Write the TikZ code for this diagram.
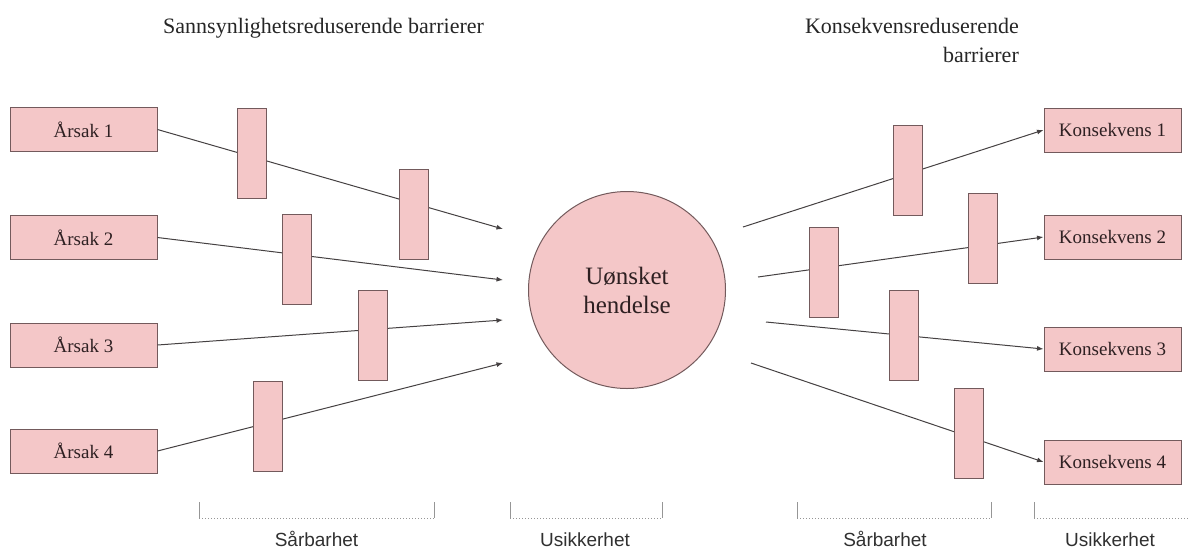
\documentclass[tikz,border=0pt]{standalone}
\usepackage{fontspec}
\setmainfont{Liberation Serif}
\newfontfamily\labelsans{Liberation Sans}
\usetikzlibrary{arrows.meta}

\definecolor{barfill}{HTML}{F4C7C8}
\definecolor{barline}{HTML}{735A5C}
\definecolor{wirecol}{HTML}{454142}
\definecolor{ink}{HTML}{2E2022}
\definecolor{headink}{HTML}{262626}
\definecolor{spanline}{HTML}{969696}
\definecolor{spanink}{HTML}{303030}

\tikzset{
  cause/.style={draw=barline, fill=barfill, line width=1pt,
    minimum width=147pt, minimum height=44pt, inner sep=0pt,
    text=ink, font=\fontsize{19}{22}\selectfont},
  effect/.style={cause, minimum width=137pt},
  barrier/.style={draw=barline, fill=barfill, line width=1pt,
    minimum width=29pt, minimum height=90pt, inner sep=0pt},
  event/.style={circle, draw=barline, fill=barfill, line width=1pt,
    minimum size=197pt, inner sep=0pt, text=ink, align=center,
    font=\fontsize{25}{29}\selectfont},
  wire/.style={draw=wirecol, line width=1pt},
  arrowwire/.style={wire, -{Latex[length=6.5pt,width=5pt]}},
  heading/.style={text=headink, inner sep=0pt, font=\fontsize{22}{26}\selectfont},
  spanlabel/.style={text=spanink, inner sep=0pt, anchor=base,
    font=\labelsans\fontsize{19}{22}\selectfont},
  spandots/.style={draw=spanline, line width=1pt, dotted},
  spantick/.style={draw=spanline, line width=0.7pt}
}

\begin{document}
\begin{tikzpicture}[x=1pt,y=-1pt]
\useasboundingbox (0,0) rectangle (1190,550);

% headings
\node[heading, anchor=base west] (hleft) at (163,33) {Sannsynlighetsreduserende barrierer};
\node[heading, anchor=base east] (hright1) at (1019,33) {Konsekvensreduserende};
\node[heading, anchor=base east] (hright2) at (1019,62) {barrierer};

% causes
\node[cause] (a1) at (83.5,129.5) {Årsak 1};
\node[cause] (a2) at (83.5,237.5) {Årsak 2};
\node[cause] (a3) at (83.5,345) {Årsak 3};
\node[cause] (a4) at (83.5,451) {Årsak 4};

% consequences
\node[effect] (k1) at (1112.5,130) {Konsekvens 1};
\node[effect] (k2) at (1112.5,237) {Konsekvens 2};
\node[effect] (k3) at (1112.5,349) {Konsekvens 3};
\node[effect] (k4) at (1112.5,462) {Konsekvens 4};

% central event
\node[event] (ev) at (627,290) {Uønsket\\hendelse};

% free ends near the event
\coordinate (in1) at (503,229);
\coordinate (in2) at (503,280);
\coordinate (in3) at (503,320);
\coordinate (in4) at (503,363);
\coordinate (out1) at (743,227);
\coordinate (out2) at (758,277);
\coordinate (out3) at (766,322);
\coordinate (out4) at (751,363);

% connectors
\draw[arrowwire] (a1.east) -- (in1);
\draw[arrowwire] (a2.east) -- (in2);
\draw[arrowwire] (a3.east) -- (in3);
\draw[arrowwire] (a4.east) -- (in4);
\draw[arrowwire] (out1) -- (k1.west);
\draw[arrowwire] (out2) -- (k2.west);
\draw[arrowwire] (out3) -- (k3.west);
\draw[arrowwire] (out4) -- (k4.west);

% barriers on top of the connectors
\node[barrier] (lb1) at (251.5,153.5) {};
\node[barrier] (lb2) at (414,214) {};
\node[barrier] (lb3) at (297,259) {};
\node[barrier] (lb4) at (373,335) {};
\node[barrier] (lb5) at (267.5,426) {};
\node[barrier] (rb1) at (907.5,170) {};
\node[barrier] (rb2) at (982.5,238) {};
\node[barrier] (rb3) at (824,272) {};
\node[barrier] (rb4) at (904,335) {};
\node[barrier] (rb5) at (968.5,433) {};

% span brackets
\draw[spantick] (199,502) -- (199,518);
\draw[spantick] (434,502) -- (434,518);
\draw[spandots] (199,518) -- (434,518);
\draw[spantick] (510,502) -- (510,518);
\draw[spantick] (662,502) -- (662,518);
\draw[spandots] (510,518) -- (662,518);
\draw[spantick] (797,502) -- (797,518);
\draw[spantick] (991,502) -- (991,518);
\draw[spandots] (797,518) -- (991,518);
\draw[spantick] (1034,502) -- (1034,518);
\draw[spandots] (1034,518) -- (1190,518);

\node[spanlabel] (s1) at (316.5,546) {Sårbarhet};
\node[spanlabel] (s2) at (585,546) {Usikkerhet};
\node[spanlabel] (s3) at (885,546) {Sårbarhet};
\node[spanlabel] (s4) at (1110,546) {Usikkerhet};
\end{tikzpicture}
\end{document}
